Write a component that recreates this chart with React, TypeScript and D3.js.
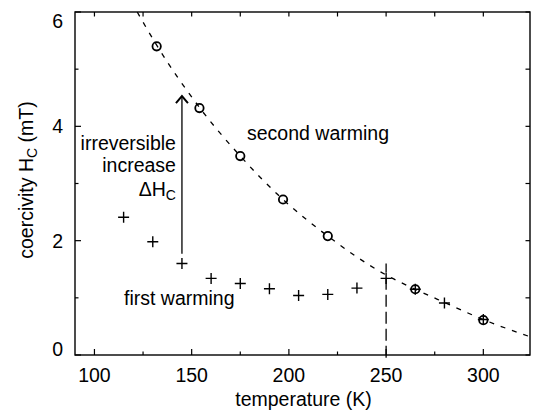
import React from "react";
import * as d3 from "d3";

// first warming (crosses)
const firstT = [115, 130, 145, 160, 175, 190, 205, 220, 235, 250, 265, 280, 300];
const firstH = [2.41, 1.98, 1.6, 1.34, 1.25, 1.16, 1.04, 1.06, 1.17, 1.34, 1.15, 0.91, 0.62];

// second warming (circles)
const secondT = [132, 154, 175, 197, 220, 265, 300];
const secondH = [5.4, 4.32, 3.48, 2.72, 2.08, 1.15, 0.61];

// dashed guide curve
const curveT = [122, 132, 154, 175, 197, 220, 250, 265, 280, 300, 324];
const curveH = [6.0, 5.42, 4.33, 3.48, 2.72, 2.08, 1.4, 1.15, 0.92, 0.62, 0.32];

const xTicks = [100, 150, 200, 250, 300];
const xMinor = [125, 175, 225, 275];
const yTicks = [0, 2, 4, 6];
const yMinor = [1, 3, 5];

// annotations
const arrowT = 145;
const arrowFrom = 1.77;
const arrowTo = 4.53;
const markerT = 250;
const markerFrom = -0.05;
const markerTo = 1.6;

const W = 536;
const H = 412;
const FONT = "'Liberation Sans', Arial, Helvetica, sans-serif";
const FS = 19.5;

export default function App() {
  const x = d3.scaleLinear().domain([90, 324]).range([75, 530]);
  const y = d3.scaleLinear().domain([0, 6]).range([355, 12]);
  const [x0, x1] = x.range();
  const [y0, y1] = y.range();

  const line = d3
    .line<number>()
    .x((_, i) => x(curveT[i]))
    .y((d) => y(d))
    .curve(d3.curveMonotoneX);

  const ax = x(arrowT);
  const ayTop = y(arrowTo);

  return (
    <svg
      width={W}
      height={H}
      viewBox={`0 0 ${W} ${H}`}
      style={{ position: "absolute", left: 0, top: 0, background: "#fff" }}
      fontFamily={FONT}
    >
      <defs>
        <clipPath id="plot">
          <rect x={x0} y={y1} width={x1 - x0} height={y0 - y1} />
        </clipPath>
      </defs>
      <rect x={0} y={0} width={W} height={H} fill="#fff" />

      {/* dashed curve */}
      <path
        d={line(curveH) || ""}
        fill="none"
        stroke="#000"
        strokeWidth={1.3}
        strokeDasharray="5,7"
        clipPath="url(#plot)"
      />

      {/* vertical dashed marker */}
      <line
        x1={x(markerT)}
        x2={x(markerT)}
        y1={y(markerFrom)}
        y2={y(markerTo)}
        stroke="#000"
        strokeWidth={1.3}
        strokeDasharray="12,5"
      />

      {/* arrow */}
      <line x1={ax} x2={ax} y1={y(arrowFrom)} y2={ayTop} stroke="#000" strokeWidth={1.3} />
      <path
        d={`M${ax - 6},${ayTop + 7} L${ax},${ayTop} L${ax + 6},${ayTop + 7}`}
        fill="none"
        stroke="#000"
        strokeWidth={2}
      />

      {/* circles */}
      {secondT.map((t, i) => (
        <circle
          key={"c" + i}
          cx={x(t)}
          cy={y(secondH[i])}
          r={4.2}
          fill="none"
          stroke="#000"
          strokeWidth={1.8}
        />
      ))}

      {/* crosses */}
      {firstT.map((t, i) => {
        const cx = x(t);
        const cy = y(firstH[i]);
        const s = 5.5;
        return (
          <path
            key={"p" + i}
            d={`M${cx - s},${cy} H${cx + s} M${cx},${cy - s} V${cy + s}`}
            stroke="#000"
            strokeWidth={1.4}
            fill="none"
          />
        );
      })}

      {/* frame */}
      <rect x={x0} y={y1} width={x1 - x0} height={y0 - y1} fill="none" stroke="#000" strokeWidth={1.4} />

      {/* x ticks */}
      {xTicks.map((t) => (
        <g key={"xt" + t}>
          <line x1={x(t)} x2={x(t)} y1={y0} y2={y0 - 6} stroke="#000" strokeWidth={1.2} />
          <line x1={x(t)} x2={x(t)} y1={y1} y2={y1 + 4.5} stroke="#000" strokeWidth={1.2} />
          <text x={x(t)} y={382} textAnchor="middle" fontSize={FS}>
            {t}
          </text>
        </g>
      ))}
      {xMinor.map((t) => (
        <g key={"xm" + t}>
          <line x1={x(t)} x2={x(t)} y1={y0} y2={y0 - 3.5} stroke="#000" strokeWidth={1.2} />
          <line x1={x(t)} x2={x(t)} y1={y1} y2={y1 + 4.5} stroke="#000" strokeWidth={1.2} />
        </g>
      ))}

      {/* y ticks */}
      {yTicks.map((t) => (
        <g key={"yt" + t}>
          <line x1={x0} x2={x0 + 6} y1={y(t)} y2={y(t)} stroke="#000" strokeWidth={1.2} />
          <line x1={x1} x2={x1 - 4.5} y1={y(t)} y2={y(t)} stroke="#000" strokeWidth={1.2} />
          <text
            x={63}
            y={Math.min(Math.max(y(t) + 7, 28), 356)}
            textAnchor="end"
            fontSize={FS}
          >
            {t}
          </text>
        </g>
      ))}
      {yMinor.map((t) => (
        <g key={"ym" + t}>
          <line x1={x0} x2={x0 + 3.5} y1={y(t)} y2={y(t)} stroke="#000" strokeWidth={1.2} />
          <line x1={x1} x2={x1 - 4.5} y1={y(t)} y2={y(t)} stroke="#000" strokeWidth={1.2} />
        </g>
      ))}

      {/* axis titles */}
      <text x={(x0 + x1) / 2 + 1} y={406} textAnchor="middle" fontSize={FS}>
        temperature (K)
      </text>
      <text transform="translate(33,180) rotate(-90)" textAnchor="middle" fontSize={FS}>
        coercivity H
        <tspan fontSize={14} dy={3.5}>C</tspan>
        <tspan dy={-3.5}> (mT)</tspan>
      </text>

      {/* annotations */}
      <text x={ax - 6} y={150} textAnchor="end" fontSize={FS}>
        irreversible
      </text>
      <text x={ax - 6} y={172} textAnchor="end" fontSize={FS}>
        increase
      </text>
      <text x={ax - 6} y={196} textAnchor="end" fontSize={FS}>
        ΔH<tspan fontSize={14} dy={3.5}>C</tspan>
      </text>
      <text x={247} y={140} fontSize={FS}>
        second warming
      </text>
      <text x={124} y={305} fontSize={FS}>
        first warming
      </text>
    </svg>
  );
}
